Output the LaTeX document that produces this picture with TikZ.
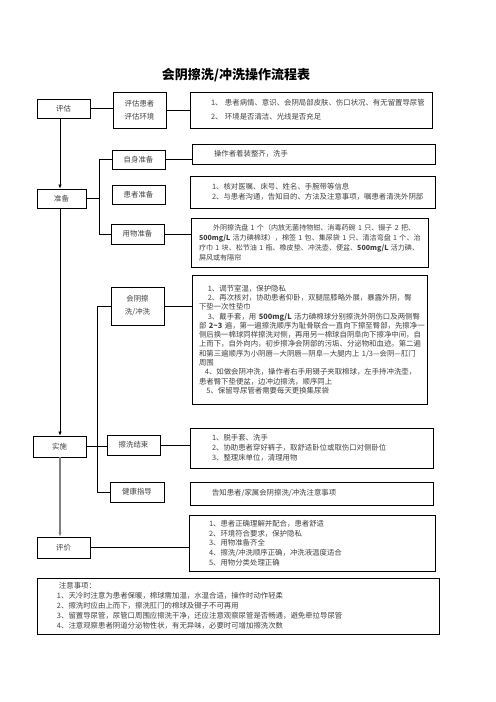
\documentclass[tikz,border=0pt]{standalone}
\usepackage{fontspec}
\setmainfont{Noto Sans CJK SC}
\usetikzlibrary{arrows.meta}
\newcommand{\txtsize}[1]{\fontsize{7.4bp}{#1bp}\selectfont}

\begin{document}
\begin{tikzpicture}[x=1bp,y=-1bp,
        box/.style={draw,line width=0.8bp,inner sep=0pt,text=black!75},
        stagebox/.style={box,minimum width=53bp,minimum height=19bp,font=\txtsize{9}},
        subbox/.style={box,minimum width=53bp,minimum height=20bp,align=center,font=\txtsize{13}},
        infobox/.style={box,align=left,font=\txtsize{10}},
        link/.style={line width=0.7bp},
        arr/.style={link,-{Latex[length=4bp,width=3.5bp]}}
    ]
    \useasboundingbox (0,0) rectangle (496,702);

    \node[font=\bfseries\fontsize{13bp}{15bp}\selectfont] (title) at (236,75) {会阴擦洗/冲洗操作流程表};

    % stages
    \node[stagebox] (pg) at (63.5,108.5) {评估};
    \node[stagebox,minimum width=49bp] (zb) at (61.5,198.5) {准备};
    \node[stagebox,minimum height=21bp] (ss) at (59.5,446.5) {实施};
    \node[stagebox,minimum height=21bp] (pj) at (63.5,547.5) {评价};

    % steps
    \node[subbox,minimum height=36bp] (pgn) at (139.5,110) {评估患者\\评估环境};
    \node[subbox,minimum height=19bp] (zsb) at (138.5,159.5) {自身准备};
    \node[subbox,minimum height=19bp] (hzb) at (138.5,194.5) {患者准备};
    \node[subbox] (ywb) at (137.5,234) {用物准备};
    \node[subbox,minimum height=38bp] (cxb) at (137.5,306) {会阴擦\\洗/冲洗};
    \node[subbox] (jsb) at (133.5,445) {擦洗结束};
    \node[subbox,minimum width=54bp] (jkb) at (137,492) {健康指导};

    % details
    \node[infobox,font=\txtsize{14},text width=200bp,inner xsep=21bp,minimum height=36bp] (pgd) at (311,110)
        {1、~患者病情、意识、会阴局部皮肤、伤口状况、有无留置导尿管\\
         2、~环境是否清洁、光线是否充足};
    \node[infobox,text width=199bp,inner xsep=22bp,minimum height=20bp] (zsd) at (313.5,154)
        {操作者着装整齐，洗手};
    \node[infobox,text width=201bp,inner xsep=22bp,minimum height=32bp] (hzd) at (312.5,192)
        {1、核对医嘱、床号、姓名、手腕带等信息\\
         2、与患者沟通，告知目的、方法及注意事项，嘱患者清洗外阴部};
    \node[infobox,font=\fontsize{7.05bp}{10bp}\selectfont,text width=221bp,inner xsep=8bp,minimum height=49bp] (ywd) at (309.5,242.5)
        {\hspace*{2em}外阴擦洗盘~1~个（内放无菌持物钳、消毒药碗~1~只、镊子~2~把、\\
         \textbf{500mg/L}~活力碘棉球），棉签~1~包、集尿袋~1~只、清洁弯盘~1~个、治\\
         疗巾~1~块、松节油~1~瓶、橡皮垫、冲洗壶、便盆、\textbf{500mg/L}~活力碘、\\
         屏风或有隔帘};
    \node[infobox,font=\txtsize{9.3},text width=221bp,inner xsep=7bp,minimum height=129bp] (cxd) at (309.5,339.5)
        {\hspace*{1.2em}1、调节室温，保护隐私\\
         \hspace*{1.2em}2、再次核对，协助患者仰卧，双腿屈膝略外展，暴露外阴，臀\\
         下垫一次性垫巾\\
         \hspace*{1.2em}3、戴手套，用~\textbf{500mg/L}~活力碘棉球分别擦洗外阴伤口及两侧臀\\
         部~\textbf{2\textasciitilde3}~遍，第一遍擦洗顺序为耻骨联合一直向下擦至臀部，先擦净一\\
         侧后换一棉球同样擦洗对侧，再用另一棉球自阴阜向下擦净中间，自\\
         上而下，自外向内，初步擦净会阴部的污垢、分泌物和血迹。第二遍\\
         和第三遍顺序为小阴唇—大阴唇—阴阜—大腿内上~1/3—会阴—肛门\\
         周围\\
         \hspace*{0.8em}4、如做会阴冲洗，操作者右手用镊子夹取棉球，左手持冲洗壶，\\
         患者臀下垫便盆，边冲边擦洗，顺序同上\\
         \hspace*{1em}5、保留导尿管者需要每天更换集尿袋};
    \node[infobox,text width=199bp,inner xsep=22bp,minimum height=40bp] (jsd) at (311.5,448)
        {1、脱手套、洗手\\
         2、协助患者穿好裤子，取舒适卧位或取伤口对侧卧位\\
         3、整理床单位，清理用物};
    \node[infobox,text width=199bp,inner xsep=22bp,minimum height=23bp] (jkd) at (311.5,493.5)
        {告知患者/家属会阴擦洗/冲洗注意事项};
    \node[infobox,font=\txtsize{9.7},text width=206bp,inner xsep=20bp,minimum height=56bp] (pjd) at (312,543)
        {1、患者正确理解并配合，患者舒适\\
         2、环境符合要求，保护隐私\\
         3、用物准备齐全\\
         4、擦洗/冲洗顺序正确，冲洗液温度适合\\
         5、用物分类处理正确};
    \node[infobox,text width=362bp,inner xsep=20bp,minimum height=56bp] (notes) at (238,606)
        {\hspace*{2bp}注意事项：\\
         1、天冷时注意为患者保暖，棉球需加温，水温合适，操作时动作轻柔\\
         2、擦洗时应由上而下，擦洗肛门的棉球及镊子不可再用\\
         3、留置导尿管，尿管口周围应擦洗干净，还应注意观察尿管是否畅通，避免牵拉导尿管\\
         4、注意观察患者阴道分泌物性状，有无异味，必要时可增加擦洗次数};

    % connectors
    \coordinate (spine) at (60,0);
    \coordinate (zbk) at (99,0);
    \coordinate (ssk) at (97,0);

    \draw[arr] (pg.south -| spine) -- (zb.north -| spine);
    \draw[arr] (zb.south -| spine) -- (ss.north -| spine);
    \draw[arr,draw=gray,line width=1.5bp] (ss.south -| spine) -- (pj.north -| spine);

    \draw[link] (pg.east) -- (pg.east -| pgn.west);
    \draw[link] (pgn.east) -- (pgd.west);
    \draw[link] (zb.east) -- (zb.east -| zbk);
    \draw[link] (zsb.west) -- (zsb.west -| zbk) |- (ywb.west);
    \draw[link] (zsb.east) -- (zsb.east -| zsd.west);
    \draw[link] (ywb.east) -- (ywb.east -| ywd.west);
    \draw[link] (cxb.west) -- (cxb.west -| ssk) |- (jkb.west);
    \draw[link] (ss.east) -- (ss.east -| jsb.west);
    \draw[link] (cxb.east) -- (cxb.east -| cxd.west);
    \draw[link] (jsb.east) -- (jsb.east -| jsd.west);
    \draw[link] (pj.east) -- (pj.east -| pjd.west);
\end{tikzpicture}
\end{document}
